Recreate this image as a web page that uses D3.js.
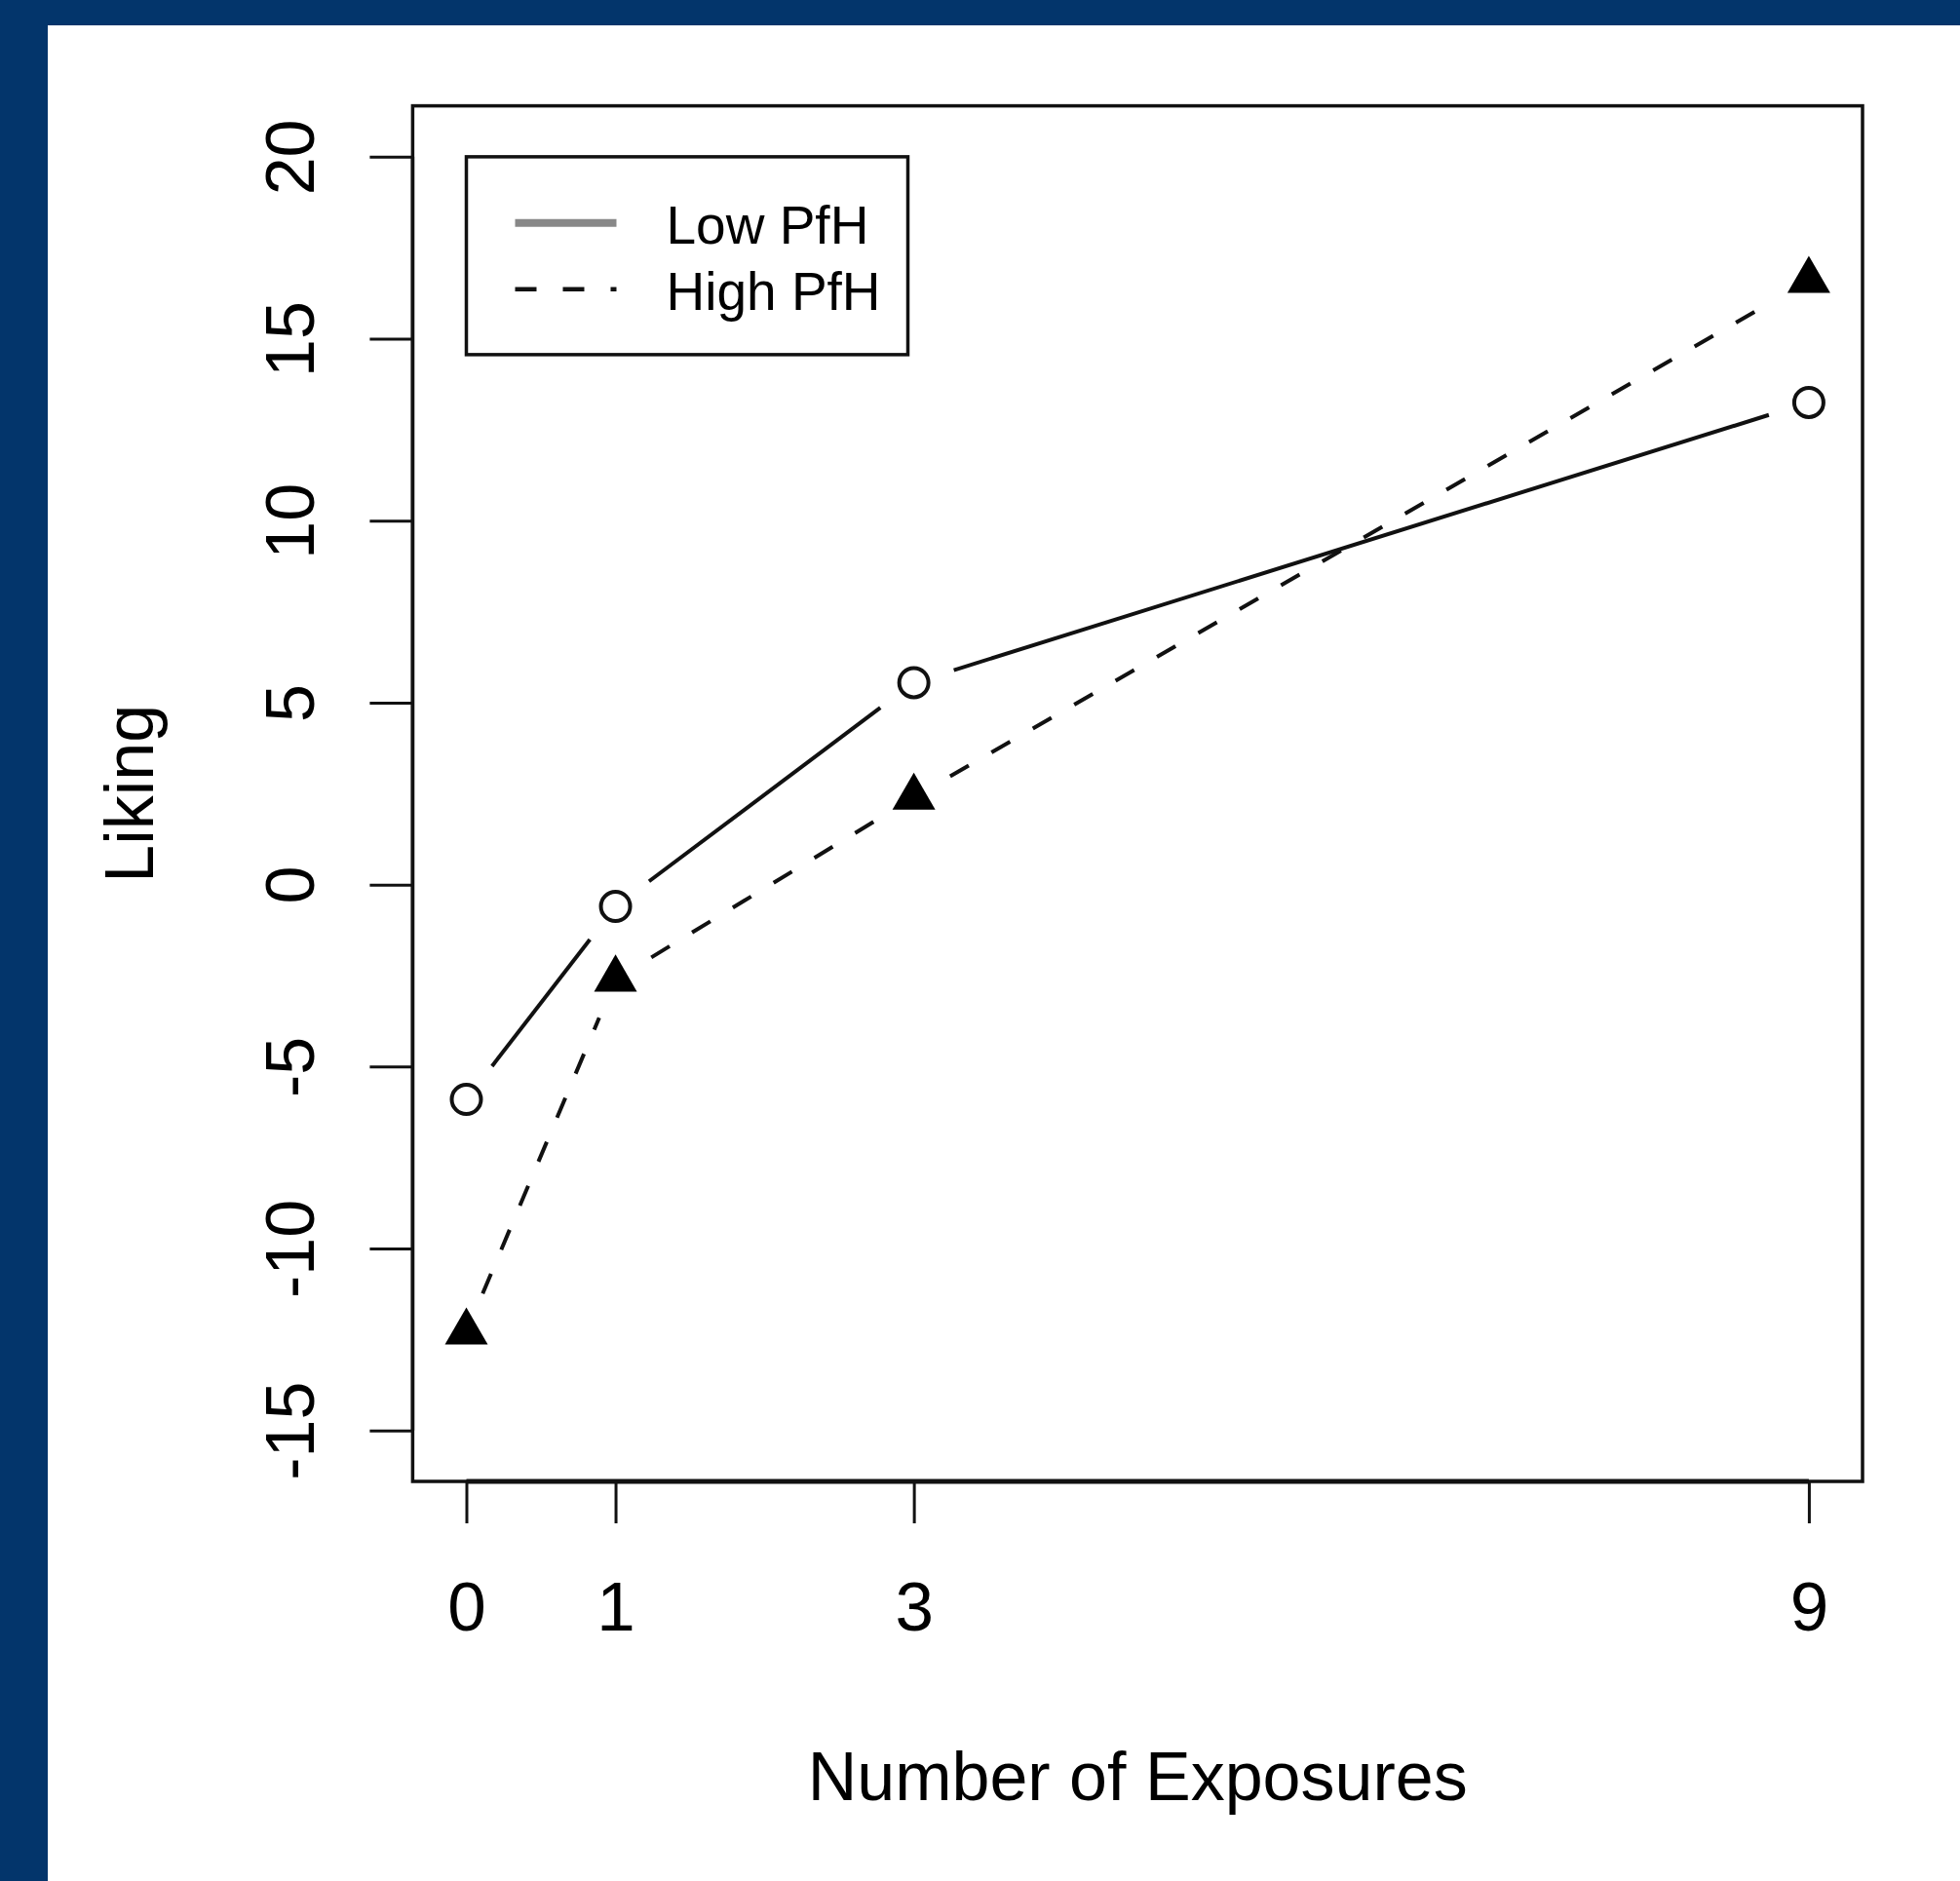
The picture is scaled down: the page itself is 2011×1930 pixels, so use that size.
<!DOCTYPE html>
<html>
<head>
<meta charset="utf-8">
<script src="https://cdn.jsdelivr.net/npm/d3@7/dist/d3.min.js"></script>
<style>
  html, body { margin: 0; padding: 0; background: #fff; }
  svg { display: block; }
  text { font-family: "Liberation Sans", Arial, sans-serif; fill: #000; }
</style>
</head>
<body>
<svg id="chart" width="2011" height="1930"></svg>
<script>
// number of exposures (x) and mean liking per group
var exposures = [0, 1, 3, 9];
var lowPfH = [-5.9, -0.6, 5.55, 13.25];
var highPfH = [-12.3, -2.6, 2.4, 16.6];
var yTicks = [-15, -10, -5, 0, 5, 10, 15, 20];
var yLimits = [-15, 20];
var seriesNames = ['Low PfH', 'High PfH'];

var W = 2011, H = 1930;
var plotLeft = 423.4, plotRight = 1911, plotTop = 108.6, plotBottom = 1520;
var gap = 43;       // type="b" gap around points
var dash = '22 27';

var svg = d3.select('#chart');

// blue frame bands (top and left only)
svg.append('rect').attr('x', 0).attr('y', 0).attr('width', W).attr('height', H).attr('fill', '#03356b');
svg.append('rect').attr('x', 49).attr('y', 26).attr('width', W - 49).attr('height', H - 26).attr('fill', '#fff');

// R style 4% padding on both axes
var xExt = d3.extent(exposures), xPad = (xExt[1] - xExt[0]) * 0.04;
var yPad = (yLimits[1] - yLimits[0]) * 0.04;

var x = d3.scaleLinear()
  .domain([xExt[0] - xPad, xExt[1] + xPad])
  .range([plotLeft, plotRight]);
var y = d3.scaleLinear()
  .domain([yLimits[0] - yPad, yLimits[1] + yPad])
  .range([plotBottom, plotTop]);

// box
svg.append('rect')
  .attr('x', plotLeft).attr('y', plotTop)
  .attr('width', plotRight - plotLeft).attr('height', plotBottom - plotTop)
  .attr('fill', 'none').attr('stroke', '#111').attr('stroke-width', 3.5);

// x axis
var xAxis = svg.append('g')
  .attr('transform', 'translate(0,' + plotBottom + ')')
  .call(d3.axisBottom(x).tickValues(exposures).tickSize(43).tickSizeOuter(0).tickFormat(d3.format('d')));
xAxis.select('.domain').remove();
xAxis.selectAll('.tick line').attr('stroke', '#111').attr('stroke-width', 3);
xAxis.selectAll('.tick text')
  .attr('y', 153).attr('dy', null)
  .style('font-size', '71px')
  .attr('font-family', null);
xAxis.append('line')
  .attr('x1', x(exposures[0])).attr('x2', x(exposures[exposures.length - 1]))
  .attr('y1', 0).attr('y2', 0)
  .attr('stroke', '#111').attr('stroke-width', 5);

// y axis
var yAxis = svg.append('g')
  .attr('transform', 'translate(' + plotLeft + ',0)')
  .call(d3.axisLeft(y).tickValues(yTicks).tickSize(44).tickSizeOuter(0).tickFormat(d3.format('d')));
yAxis.select('.domain').remove();
yAxis.selectAll('.tick line').attr('stroke', '#111').attr('stroke-width', 3);
yAxis.selectAll('.tick text')
  .attr('x', 0).attr('dy', null)
  .attr('text-anchor', 'middle')
  .attr('transform', 'translate(-101,0) rotate(-90)')
  .style('font-size', '70px')
  .attr('font-family', null)
  .text(function(d) { return d < 0 ? '-' + Math.abs(d) : d; });
yAxis.append('line')
  .attr('x1', 0).attr('x2', 0)
  .attr('y1', y(yTicks[0])).attr('y2', y(yTicks[yTicks.length - 1]))
  .attr('stroke', '#111').attr('stroke-width', 3.5);

// axis titles
svg.append('text')
  .attr('x', (plotLeft + plotRight) / 2).attr('y', 1847)
  .attr('text-anchor', 'middle')
  .style('font-size', '70px')
  .text('Number of Exposures');
svg.append('text')
  .attr('transform', 'translate(157,' + (plotTop + plotBottom) / 2 + ') rotate(-90)')
  .attr('text-anchor', 'middle')
  .style('font-size', '70px')
  .text('Liking');

// lines with gaps around the points (type = "b")
function drawSegments(vals, dashed) {
  for (var i = 0; i < exposures.length - 1; i++) {
    var x0 = x(exposures[i]), y0 = y(vals[i]);
    var x1 = x(exposures[i + 1]), y1 = y(vals[i + 1]);
    var len = Math.sqrt((x1 - x0) * (x1 - x0) + (y1 - y0) * (y1 - y0));
    var ux = (x1 - x0) / len, uy = (y1 - y0) / len;
    svg.append('line')
      .attr('x1', x0 + ux * gap).attr('y1', y0 + uy * gap)
      .attr('x2', x1 - ux * gap).attr('y2', y1 - uy * gap)
      .attr('stroke', '#111').attr('stroke-width', 4)
      .attr('stroke-dasharray', dashed ? dash : null);
  }
}
drawSegments(lowPfH, false);
drawSegments(highPfH, true);

// open circles for Low PfH
svg.selectAll('.low')
  .data(lowPfH)
  .enter().append('circle')
  .attr('cx', function(d, i) { return x(exposures[i]); })
  .attr('cy', function(d) { return y(d); })
  .attr('r', 15)
  .attr('fill', '#fff').attr('stroke', '#111').attr('stroke-width', 4);

// filled triangles for High PfH
var triR = 25.4;
var tri = d3.symbol().type(d3.symbolTriangle).size(3 * Math.sqrt(3) / 4 * triR * triR);
svg.selectAll('.high')
  .data(highPfH)
  .enter().append('path')
  .attr('d', tri)
  .attr('transform', function(d, i) { return 'translate(' + x(exposures[i]) + ',' + y(d) + ')'; })
  .attr('fill', '#000');

// legend box anchored at (0, 20)
var lgX = x(0), lgY = y(20);
svg.append('rect')
  .attr('x', lgX).attr('y', lgY).attr('width', 453).attr('height', 203)
  .attr('fill', 'none').attr('stroke', '#111').attr('stroke-width', 3.5);
var lgRows = [68, 136];
svg.append('line')
  .attr('x1', lgX + 50).attr('x2', lgX + 154)
  .attr('y1', lgY + lgRows[0]).attr('y2', lgY + lgRows[0])
  .attr('stroke', '#888').attr('stroke-width', 8);
svg.append('line')
  .attr('x1', lgX + 50).attr('x2', lgX + 154)
  .attr('y1', lgY + lgRows[1]).attr('y2', lgY + lgRows[1])
  .attr('stroke', '#111').attr('stroke-width', 4.5)
  .attr('stroke-dasharray', dash);
svg.selectAll('.lgtext')
  .data(seriesNames)
  .enter().append('text')
  .attr('x', lgX + 205)
  .attr('y', function(d, i) { return lgY + lgRows[i] + 21; })
  .style('font-size', '55px')
  .text(function(d) { return d; });
</script>
</body>
</html>
